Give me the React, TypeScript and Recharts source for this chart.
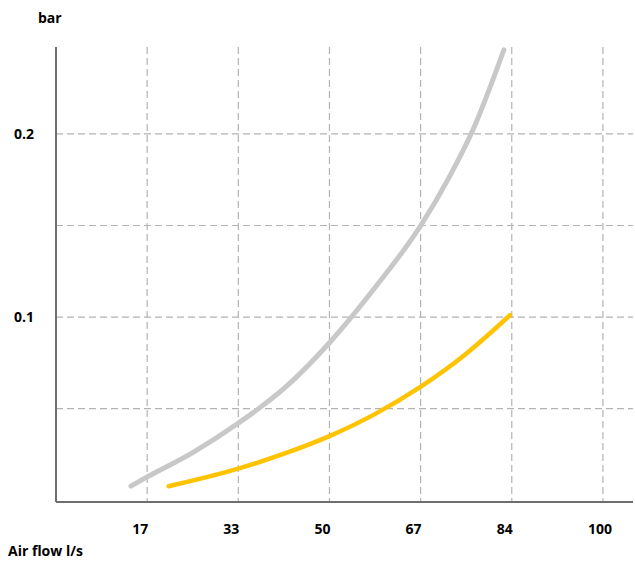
import React from "react";
import { LineChart, Line, XAxis, YAxis, CartesianGrid } from "recharts";

const xTickValues = [16.667, 33.333, 50, 66.667, 83.333, 100];
const xTickLabels = ["17", "33", "50", "67", "84", "100"];
const yTickValues = [0.05, 0.1, 0.15, 0.2];
const yTickLabels = ["", "0.1", "", "0.2"];

const grayFlow = [13.7, 16.67, 25, 33.3, 41.7, 50, 58.3, 66.7, 72, 76.2, 81.9];
const grayPressure = [0.0077, 0.0127, 0.026, 0.042, 0.061, 0.086, 0.116, 0.15, 0.177, 0.202, 0.246];

const yellowFlow = [20.6, 33.3, 41.7, 50, 58.3, 66.7, 75, 83.0];
const yellowPressure = [0.0076, 0.0172, 0.0254, 0.035, 0.047, 0.062, 0.08, 0.101];

const grayData = grayFlow.map((x, i) => ({ x, y: grayPressure[i] }));
const yellowData = yellowFlow.map((x, i) => ({ x, y: yellowPressure[i] }));

const FONT = "'Open Sans', 'Noto Sans', sans-serif";

function XTick(props: any) {
  const { x, y, payload } = props;
  const label = xTickLabels[xTickValues.indexOf(payload.value)] ?? "";
  return (
    <text
      x={x - 15}
      y={y}
      dy={11}
      textAnchor="start"
      fontSize={14}
      fontWeight={700}
      fontFamily={FONT}
      fill="#000"
    >
      {label}
    </text>
  );
}

export default function App() {
  return (
    <div style={{ position: "absolute", left: 0, top: 0 }}>
      <LineChart width={635} height={563} margin={{ top: 47, right: 2, bottom: 0, left: 0 }}>
        <CartesianGrid
          stroke="#b3b3b3"
          strokeDasharray="7 4"
          strokeWidth={1.2}
          horizontalValues={yTickValues}
          verticalValues={xTickValues}
        />
        <XAxis
          type="number"
          dataKey="x"
          domain={[0, 105.5]}
          ticks={xTickValues}
          height={61}
          axisLine={{ stroke: "#6e6e6e", strokeWidth: 2 }}
          tickLine={false}
          tickMargin={15}
          tick={<XTick />}
          allowDataOverflow
        />
        <YAxis
          type="number"
          dataKey="y"
          domain={[-0.001, 0.2475]}
          ticks={yTickValues}
          tickFormatter={(v: number) => yTickLabels[yTickValues.indexOf(v)] ?? ""}
          width={56}
          axisLine={{ stroke: "#6e6e6e", strokeWidth: 2 }}
          tickLine={false}
          tickMargin={16}
          tick={{ fill: "#000", fontSize: 14, fontWeight: 700, fontFamily: FONT }}
          allowDataOverflow
        />
        <Line
          data={grayData}
          dataKey="y"
          type="monotone"
          stroke="#c8c8c8"
          strokeWidth={5}
          strokeLinecap="round"
          dot={false}
          isAnimationActive={false}
        />
        <Line
          data={yellowData}
          dataKey="y"
          type="monotone"
          stroke="#ffc300"
          strokeWidth={4.5}
          strokeLinecap="round"
          dot={false}
          isAnimationActive={false}
        />
        <text x={38} y={23} fontSize={14} fontWeight={700} fontFamily={FONT} fill="#000">bar</text>
        <text x={8} y={556} fontSize={14} fontWeight={700} fontFamily={FONT} fill="#000">Air flow l/s</text>
      </LineChart>
    </div>
  );
}
